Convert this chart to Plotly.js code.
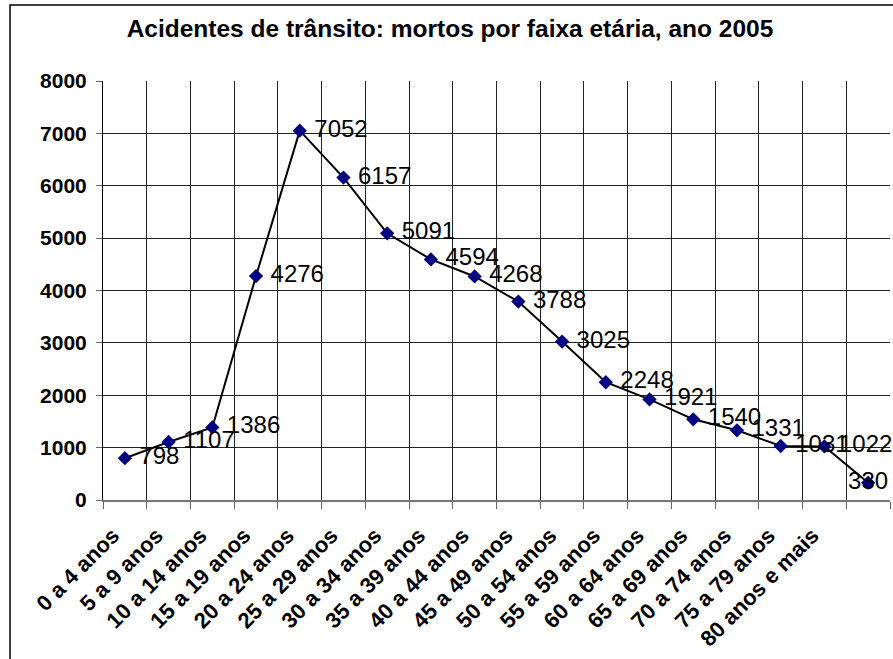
<!DOCTYPE html>
<html>
<head>
<meta charset="utf-8">
<script src="https://cdn.plot.ly/plotly-3.0.1.min.js"></script>
<style>
html,body{margin:0;padding:0;background:#fff;}
#chart{width:893px;height:659px;}
</style>
</head>
<body>
<div id="chart"></div>
<script>
const categories = ["0 a 4 anos","5 a 9 anos","10 a 14 anos","15 a 19 anos","20 a 24 anos","25 a 29 anos","30 a 34 anos","35 a 39 anos","40 a 44 anos","45 a 49 anos","50 a 54 anos","55 a 59 anos","60 a 64 anos","65 a 69 anos","70 a 74 anos","75 a 79 anos","80 anos e mais"," "];
const mortos = [798,1107,1386,4276,7052,6157,5091,4594,4268,3788,3025,2248,1921,1540,1331,1031,1022,330];
const yTicks = [0,1000,2000,3000,4000,5000,6000,7000,8000];
const titleText = "Acidentes de trânsito: mortos por faixa etária, ano 2005";

const W = 893, H = 659;
const L = 103, R = 3, T = 81, B = 159;
const pw = W - L - R, ph = H - T - B;
const px = v => (v - L) / pw;
const py = v => (H - B - v) / ph;

const font = "Liberation Sans, Arial, sans-serif";

const trace = {
  type: "scatter",
  mode: "lines+markers+text",
  x: categories,
  y: mortos,
  text: mortos.map(String),
  texttemplate: mortos.map((v, i) => i === mortos.length - 1 ? "%{text}" : " %{text}"),
  textposition: mortos.map((v, i) => i === mortos.length - 1 ? "middle center" : "middle right"),
  textfont: {family: font, size: 24, color: "#000"},
  line: {color: "#000", width: 2},
  marker: {symbol: "diamond", size: 11, color: "#000080"},
  cliponaxis: false,
  hoverinfo: "x+y"
};

const layout = {
  width: W, height: H,
  margin: {l: L, r: R, t: T, b: B, pad: 0},
  paper_bgcolor: "#fff",
  plot_bgcolor: "#fff",
  showlegend: false,
  font: {family: font, color: "#000"},
  title: {
    text: "<b>" + titleText + "</b>",
    font: {family: font, size: 24.5, color: "#000"},
    x: 450 / W, xanchor: "center", xref: "container",
    y: 1 - 28 / H, yanchor: "middle", yref: "container"
  },
  xaxis: {
    type: "category",
    range: [-0.5, categories.length - 0.5],
    tickson: "boundaries",
    ticks: "outside", ticklen: 7, tickcolor: "#666", tickwidth: 1,
    showgrid: true, gridcolor: "#222", gridwidth: 1,
    showline: true, linecolor: "#777", linewidth: 2,
    tickangle: -45,
    ticklabelstandoff: 12,
    ticklabelshift: -12,
    tickfont: {family: font, size: 22, color: "#000", weight: "bold"},
    zeroline: false,
    fixedrange: true
  },
  yaxis: {
    range: [0, 8000],
    tickvals: yTicks,
    ticktext: yTicks.map(v => "<b>" + v + "</b>"),
    ticks: "outside", ticklen: 6, tickcolor: "#666",
    ticklabelstandoff: 5,
    showgrid: true, gridcolor: "#222", gridwidth: 1,
    showline: true, linecolor: "#000", linewidth: 1,
    tickfont: {family: font, size: 21, color: "#000"},
    zeroline: false,
    fixedrange: true
  },
  shapes: [{
    type: "rect", xref: "paper", yref: "paper",
    x0: px(10), x1: px(905), y0: py(675), y1: py(5),
    line: {color: "#000", width: 1.5}, fillcolor: "rgba(0,0,0,0)",
    layer: "above"
  }]
};

Plotly.newPlot("chart", [trace], layout, {displayModeBar: false, staticPlot: true});
</script>
</body>
</html>
